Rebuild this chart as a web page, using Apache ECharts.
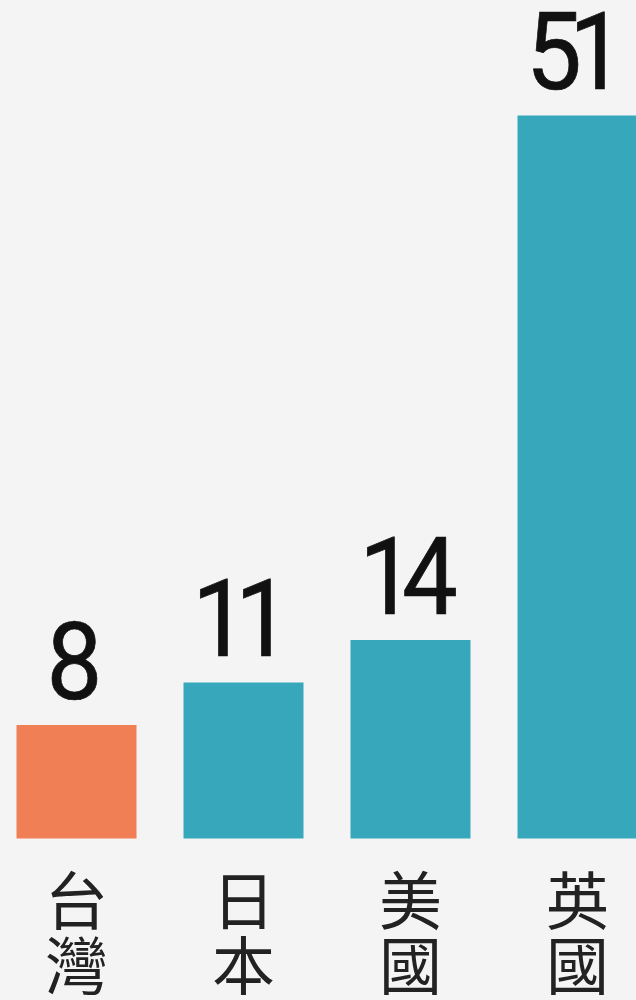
<!DOCTYPE html>
<html>
<head>
<meta charset="utf-8">
<style>
  html, body { margin: 0; padding: 0; background: #f4f4f4; }
  #chart { width: 636px; height: 1000px; }
</style>
<script src="https://cdn.jsdelivr.net/npm/echarts@6/dist/echarts.min.js"></script>
</head>
<body>
<div id="chart"></div>
<script>
// Countries (stacked vertically under each bar) and their values
const categories = ['台\n灣', '日\n本', '美\n國', '英\n國'];
const values = [8, 11, 14, 51];
const barColors = ['#f07f56', '#37a8bc', '#37a8bc', '#37a8bc'];

// Number style: tight tracking and a slight horizontal squeeze
const NUM_FONT = 'Roboto, "DejaVu Sans", sans-serif';
const NUM_SIZE = 107;
const NUM_WEIGHT = 'normal';
const NUM_TRACK = -14;
const NUM_SQUEEZE = 0.93;

const measureCtx = document.createElement('canvas').getContext('2d');
measureCtx.font = NUM_WEIGHT + ' ' + NUM_SIZE + 'px ' + NUM_FONT;

const chart = echarts.init(document.getElementById('chart'), null, { renderer: 'canvas' });

// Value numbers above each bar, laid out character by character
function renderValue(params, api) {
  const pt = api.coord([api.value(0), api.value(1)]);
  const chars = String(api.value(1)).split('');
  const advances = chars.map(c => measureCtx.measureText(c).width + NUM_TRACK);
  const total = advances.reduce((a, b) => a + b, 0) - NUM_TRACK;
  let cursor = -total / 2;
  const children = chars.map((c, i) => {
    const el = {
      type: 'text',
      style: {
        text: c,
        x: cursor,
        y: 0,
        align: 'left',
        verticalAlign: 'bottom',
        fontFamily: NUM_FONT,
        fontSize: NUM_SIZE,
        fontWeight: NUM_WEIGHT,
        fill: '#111',
        stroke: '#111',
        lineWidth: 0.7
      }
    };
    cursor += advances[i];
    return el;
  });
  return {
    type: 'group',
    x: pt[0] - 2,
    y: pt[1] + 0.5,
    scaleX: NUM_SQUEEZE,
    children: children
  };
}

chart.setOption({
  backgroundColor: '#f4f4f4',
  animation: false,
  grid: {
    left: -7, right: -25, top: 2, bottom: 161.5,
    containLabel: false,
    outerBoundsMode: 'none'
  },
  xAxis: {
    type: 'category',
    data: categories,
    axisLine: { show: false },
    axisTick: { show: false },
    axisLabel: {
      margin: 29,
      fontFamily: '"Noto Sans CJK TC", "Noto Sans CJK SC", sans-serif',
      fontSize: 63,
      lineHeight: 65,
      color: '#222'
    }
  },
  yAxis: {
    type: 'value',
    min: 0,
    max: 59,
    show: false,
    splitLine: { show: false }
  },
  series: [{
    type: 'bar',
    barWidth: 120,
    data: values.map((v, i) => ({ value: v, itemStyle: { color: barColors[i] } }))
  }, {
    type: 'custom',
    renderItem: renderValue,
    data: values.map((v, i) => [i, v]),
    z: 5
  }]
});
</script>
</body>
</html>
